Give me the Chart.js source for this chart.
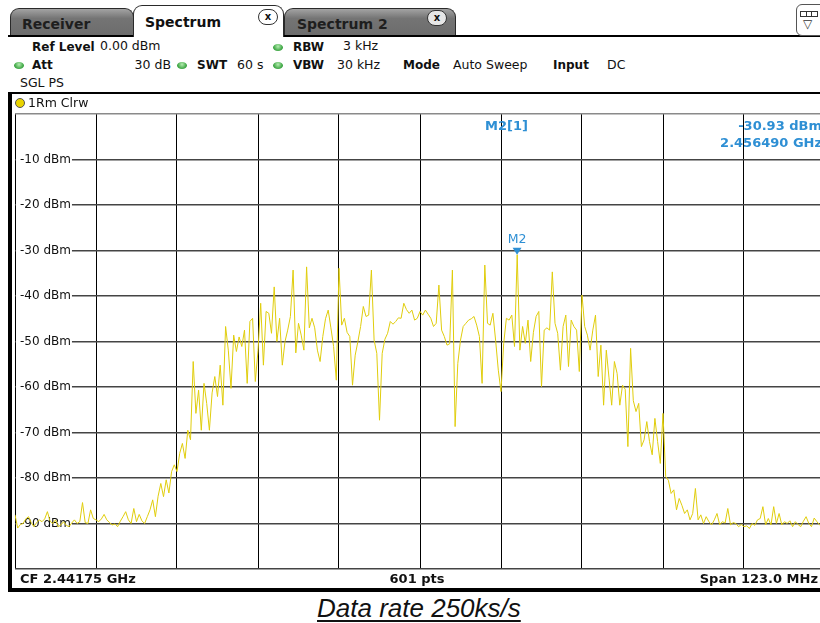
<!DOCTYPE html>
<html>
<head>
<meta charset="utf-8">
<title>Spectrum</title>
<script src="https://cdn.jsdelivr.net/npm/chart.js@4.4.1/dist/chart.umd.min.js"></script>
<style>
  html, body { margin:0; padding:0; background:#fff; overflow:hidden; }
  #screen { position:relative; width:840px; height:623px; overflow:hidden;
            font-family:"DejaVu Sans", Verdana, sans-serif; color:#111; }
  .t { position:absolute; white-space:nowrap; line-height:1; font-size:12.5px; z-index:5; }
  .b { font-weight:bold; font-size:12px; }
  .ft { font-weight:bold; font-size:13px; }
  .tab { position:absolute; box-sizing:border-box; border:1.5px solid #2a2a2a; border-bottom:none;
         border-radius:9px 9px 0 0; }
  .tab.off { background:linear-gradient(#a3a3a3, #747474 35%, #6c6c6c); z-index:1; }
  .tab.on { background:#fff; z-index:3; }
  .tabtxt { font-size:14px; font-weight:bold; }
  .close { position:absolute; box-sizing:border-box; width:20px; height:16px; border:1.5px solid #333;
           border-radius:8px; font:bold 10px "DejaVu Sans"; text-align:center; line-height:13px;
           color:#111; z-index:6; }
  .dot { position:absolute; width:10px; height:7px; border-radius:50%; z-index:5;
         background:radial-gradient(circle at 50% 35%, #b4ecb0, #35a13c 70%); }
  .rule { position:absolute; background:#000; z-index:2; }
  .blue { color:#2e8fd4; }
  #plot { position:absolute; left:0; top:94px; z-index:1; }
  #caption { position:absolute; left:317px; top:595px; font:italic 26px "Liberation Sans", Arial, sans-serif;
             line-height:1; text-decoration:underline; text-decoration-thickness:1.5px;
             text-underline-offset:3px; color:#111; white-space:nowrap; }
</style>
</head>
<body>
<div id="screen">
  <!-- tab strip -->
  <div class="rule" style="left:8px;top:35px;width:832px;height:1.5px;"></div>
  <div class="tab off" style="left:10px;top:8px;width:124px;height:28px;"></div>
  <div class="tab on" style="left:133px;top:5px;width:151px;height:32px;"></div>
  <div class="tab off" style="left:284px;top:8px;width:172px;height:28px;"></div>
  <span class="t tabtxt" style="left:22px;top:16.5px;color:#1e1e1e;">Receiver</span>
  <span class="t tabtxt" style="left:145px;top:15px;">Spectrum</span>
  <span class="t tabtxt" style="left:297px;top:16.5px;color:#1e1e1e;">Spectrum 2</span>
  <div class="close" style="left:258px;top:9px;background:#fff;">x</div>
  <div class="close" style="left:427px;top:10px;background:#e6e6e6;">x</div>
  <div style="position:absolute;left:796px;top:4px;width:34px;height:32px;box-sizing:border-box;border:1.5px solid #555;border-radius:6px;background:#fff;z-index:4;">
    <div style="position:absolute;left:3px;top:6px;width:18px;height:6px;box-sizing:border-box;border:1.5px solid #333;background:linear-gradient(90deg,#fff 0 30%,#333 30% 36%,#fff 36% 64%,#333 64% 70%,#fff 70%);"></div>
    <div style="position:absolute;left:6px;top:13px;font:12px 'DejaVu Sans';color:#333;line-height:1;">&#9661;</div>
  </div>

  <!-- setting readouts -->
  <span class="t b" style="left:32px;top:40.5px;">Ref Level</span>
  <span class="t" style="left:100px;top:40.1px;">0.00 dBm</span>
  <div class="dot" style="left:273px;top:44px;"></div>
  <span class="t b" style="left:293px;top:40.5px;">RBW</span>
  <span class="t" style="left:343px;top:40.1px;">3 kHz</span>

  <div class="dot" style="left:14px;top:62px;"></div>
  <span class="t b" style="left:32px;top:59.2px;">Att</span>
  <span class="t" style="right:669px;top:58.7px;">30 dB</span>
  <div class="dot" style="left:177px;top:62px;"></div>
  <span class="t b" style="left:197px;top:59.2px;">SWT</span>
  <span class="t" style="left:237px;top:58.7px;">60 s</span>
  <div class="dot" style="left:273px;top:62px;"></div>
  <span class="t b" style="left:293px;top:59.2px;">VBW</span>
  <span class="t" style="left:337px;top:58.7px;">30 kHz</span>
  <span class="t b" style="left:403px;top:59.2px;">Mode</span>
  <span class="t" style="left:453px;top:58.7px;">Auto Sweep</span>
  <span class="t b" style="left:553px;top:59.2px;">Input</span>
  <span class="t" style="left:607px;top:58.7px;">DC</span>

  <span class="t" style="left:20px;top:76.7px;">SGL PS</span>

  <!-- display frame -->
  <div class="rule" style="left:10px;top:92px;width:830px;height:2px;"></div>
  <div class="rule" style="left:8px;top:92px;width:4px;height:500px;"></div>
  <div class="rule" style="left:8px;top:588px;width:832px;height:4px;"></div>

  <!-- trace header -->
  <div style="position:absolute;left:15px;top:98px;width:10px;height:10px;box-sizing:border-box;border-radius:50%;border:1px solid #555;background:#ead400;z-index:5;"></div>
  <span class="t" style="left:28px;top:96.7px;">1Rm Clrw</span>

  <!-- marker readout -->
  <span class="t ft blue" id="mkName" style="left:485px;top:119px;"></span>
  <span class="t ft blue" id="mkLevel" style="right:18px;top:119px;"></span>
  <span class="t ft blue" id="mkFreq" style="right:18px;top:135.7px;"></span>

  <!-- footer -->
  <span class="t ft" id="cfText" style="left:20px;top:571.5px;"></span>
  <span class="t ft" id="ptsText" style="left:417px;top:571.5px;transform:translateX(-50%);"></span>
  <span class="t ft" id="spanText" style="right:22px;top:571.5px;"></span>

  <canvas id="plot" width="840" height="500"></canvas>

  <div id="caption">Data rate 250ks/s</div>
</div>

<script>
// Sweep settings
const centerMHz = 2441.75;
const spanMHz = 123.0;
const sweepPoints = 601;
const refLevel = 0;
const bottomLevel = -100;
const levelTicks = [0, -10, -20, -30, -40, -50, -60, -70, -80, -90, -100];

// Marker M2
const markerName = 'M2';
const markerFreqMHz = 2456.49;
const markerLevel = -30.93;

// Trace 1 (Clear/Write), levels in dBm, evenly spaced across the span
const levelDbm = [
  -88.1,-91.0,-90.2,-90.0,-89.0,-88.5,-89.8,-90.7,-89.8,-89.2,
  -89.6,-89.0,-87.4,-89.5,-90.0,-89.2,-90.7,-90.3,-89.6,-90.4,
  -90.7,-89.9,-89.2,-90.0,-89.6,-85.4,-89.8,-90.0,-87.0,-88.9,
  -89.2,-89.6,-89.0,-88.0,-89.2,-89.8,-90.3,-90.1,-90.7,-89.5,
  -88.5,-87.4,-89.2,-90.0,-86.7,-89.6,-88.0,-89.4,-90.0,-88.5,
  -87.0,-84.8,-88.5,-84.0,-81.2,-84.1,-80.4,-83.3,-78.6,-77.1,
  -78.6,-74.6,-72.4,-75.7,-69.5,-71.6,-54.4,-65.8,-60.7,-69.5,
  -59.2,-63.6,-69.5,-61.3,-57.7,-62.1,-55.2,-64.0,-46.7,-51.9,
  -60.3,-48.6,-52.2,-49.0,-51.1,-47.5,-59.2,-45.6,-44.9,-58.8,
  -52.0,-41.6,-55.2,-43.4,-43.8,-48.2,-38.0,-50.0,-44.9,-55.2,
  -50.0,-47.5,-44.5,-34.3,-52.5,-46.0,-48.6,-51.9,-33.6,-47.0,
  -44.9,-47.0,-51.9,-54.4,-48.9,-45.0,-43.1,-47.0,-51.1,-58.5,
  -33.9,-46.4,-44.9,-48.0,-48.9,-59.6,-53.0,-50.0,-46.7,-42.3,
  -44.5,-44.2,-34.3,-49.7,-52.6,-67.3,-52.6,-49.5,-48.2,-45.6,
  -46.2,-45.6,-44.8,-44.9,-41.6,-43.0,-43.8,-43.1,-45.3,-44.9,
  -43.4,-44.2,-43.1,-44.0,-44.9,-46.7,-46.0,-37.6,-47.5,-48.9,
  -50.8,-50.5,-34.3,-68.7,-54.8,-49.7,-46.7,-46.0,-45.3,-45.0,
  -44.5,-46.4,-48.9,-59.2,-33.2,-46.0,-46.4,-43.8,-49.7,-56.3,
  -61.0,-50.4,-44.9,-45.3,-44.2,-51.1,-30.93,-51.9,-46.7,-50.4,
  -45.3,-54.4,-48.0,-44.5,-43.4,-59.9,-47.5,-47.0,-47.5,-34.7,
  -46.0,-48.2,-56.3,-46.7,-44.2,-55.5,-45.3,-46.7,-47.5,-56.6,
  -39.8,-46.7,-48.6,-51.9,-47.5,-44.2,-57.7,-50.8,-64.0,-51.9,
  -58.0,-64.0,-54.4,-57.0,-64.0,-59.6,-60.5,-73.1,-51.5,-63.0,
  -65.4,-63.6,-73.1,-71.6,-67.6,-72.0,-74.9,-66.9,-72.0,-76.8,
  -65.8,-79.7,-80.5,-83.4,-82.6,-87.0,-84.5,-86.0,-87.8,-87.0,
  -89.2,-87.8,-82.3,-89.2,-88.1,-90.0,-88.5,-89.6,-90.3,-89.2,
  -87.8,-90.3,-89.6,-89.9,-86.7,-90.3,-89.8,-90.0,-90.7,-90.2,
  -90.7,-90.5,-91.1,-90.0,-90.4,-89.2,-88.9,-86.3,-90.3,-88.9,
  -90.3,-86.3,-90.0,-87.8,-90.3,-89.6,-90.0,-89.4,-90.7,-89.6,
  -90.2,-90.7,-89.5,-88.5,-90.0,-90.7,-88.8,-89.6,-90.3,-89.8,-90.2
];

const startMHz = centerMHz - spanMHz / 2;
const stopMHz = centerMHz + spanMHz / 2;
const divisions = 10;
const gridFreqs = Array.from({length: divisions + 1}, (_, k) => startMHz + k * spanMHz / divisions);
const tracePoints = levelDbm.map((v, i) => ({ x: startMHz + i * spanMHz / (levelDbm.length - 1), y: v }));

const traceColor = '#e0cd0c';
const markerColor = '#2e8fd4';

// readout texts
document.getElementById('mkName').textContent = markerName + '[1]';
document.getElementById('mkLevel').textContent = markerLevel.toFixed(2) + ' dBm';
document.getElementById('mkFreq').textContent = (markerFreqMHz / 1000).toFixed(6) + ' GHz';
document.getElementById('cfText').textContent = 'CF ' + (centerMHz / 1000).toFixed(5) + ' GHz';
document.getElementById('ptsText').textContent = sweepPoints + ' pts';
document.getElementById('spanText').textContent = 'Span ' + spanMHz.toFixed(1) + ' MHz';

// marker flag: downward triangle with its tip on the marker level, name above
const markerFlag = {
  id: 'markerFlag',
  afterDatasetsDraw(chart) {
    const pt = chart.getDatasetMeta(1).data[0];
    if (!pt) return;
    const { x, y } = pt;
    const ctx = chart.ctx;
    ctx.save();
    ctx.fillStyle = markerColor;
    ctx.beginPath();
    ctx.moveTo(x, y);
    ctx.lineTo(x - 4.5, y - 7);
    ctx.lineTo(x + 4.5, y - 7);
    ctx.closePath();
    ctx.fill();
    ctx.font = '12.5px "DejaVu Sans"';
    ctx.textAlign = 'center';
    ctx.textBaseline = 'alphabetic';
    ctx.fillText(markerName, x, y - 11.5);
    ctx.restore();
  }
};

const zeroFit = s => {
  if (s.isHorizontal()) s.height = 0; else s.width = 0;
  s.paddingTop = 0; s.paddingBottom = 0; s.paddingLeft = 0; s.paddingRight = 0;
};

new Chart(document.getElementById('plot'), {
  type: 'line',
  data: {
    datasets: [
      {
        label: 'Trace 1',
        data: tracePoints,
        borderColor: traceColor,
        borderWidth: 1,
        borderJoinStyle: 'round',
        pointRadius: 0,
        tension: 0,
        fill: false
      },
      {
        label: markerName,
        data: [{ x: markerFreqMHz, y: markerLevel }],
        showLine: false,
        pointRadius: 0,
        pointHoverRadius: 0
      }
    ]
  },
  options: {
    responsive: false,
    devicePixelRatio: 1,
    animation: false,
    events: [],
    layout: { padding: { left: 15, right: 15, top: 20, bottom: 25 } },
    plugins: { legend: { display: false }, tooltip: { enabled: false } },
    scales: {
      x: {
        type: 'linear',
        min: startMHz,
        max: stopMHz,
        afterBuildTicks: s => { s.ticks = gridFreqs.map(v => ({ value: v })); },
        afterFit: zeroFit,
        ticks: { display: false },
        grid: { color: '#000', lineWidth: 1, drawTicks: false },
        border: { display: false }
      },
      y: {
        type: 'linear',
        min: bottomLevel,
        max: refLevel,
        afterBuildTicks: s => { s.ticks = levelTicks.map(v => ({ value: v })); },
        afterFit: zeroFit,
        ticks: {
          mirror: true,
          padding: 5,
          color: '#111',
          font: { family: 'DejaVu Sans', size: 12 },
          callback: v => (v === refLevel || v === bottomLevel) ? '' : v + ' dBm',
          showLabelBackdrop: ctx => ctx.tick && ctx.tick.value !== refLevel && ctx.tick.value !== bottomLevel,
          backdropColor: '#fff',
          backdropPadding: { left: 4, right: 1, top: 0, bottom: 0 }
        },
        grid: {
          color: ctx => (ctx.tick && ctx.tick.value === refLevel) ? '#8a8a8a' : '#444',
          lineWidth: 1.6,
          drawTicks: false
        },
        border: { display: false }
      }
    }
  },
  plugins: [markerFlag]
});
</script>
</body>
</html>
